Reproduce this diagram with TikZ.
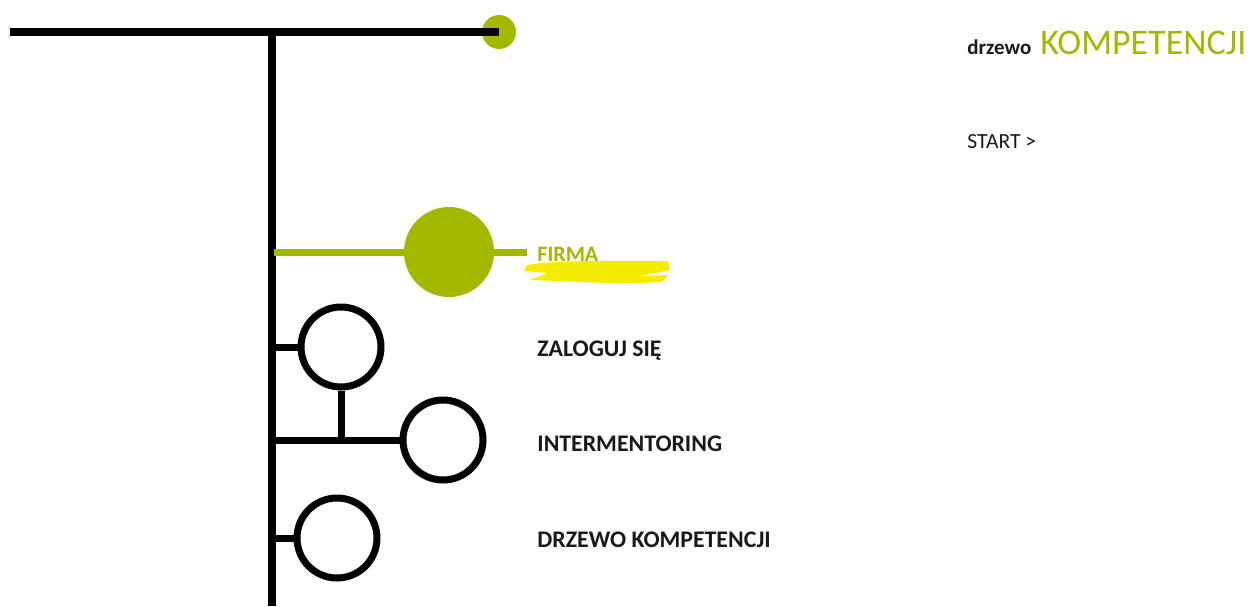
\documentclass[tikz,border=0pt]{standalone}
\usepackage{fontspec}
\setmainfont{Carlito}
\definecolor{leaf}{RGB}{164,184,0}
\definecolor{marker}{RGB}{245,236,0}
\definecolor{ink}{RGB}{25,25,25}
\tikzset{
  twig/.style={line width=4pt, black},
  ring/.style={circle, draw=black, line width=3.5pt, fill=white, minimum size=40pt, inner sep=0pt},
  item/.style={anchor=base west, inner sep=0pt, font=\bfseries\fontsize{11.9}{14}\selectfont, text=ink},
}
\begin{document}
\begin{tikzpicture}[x=0.5pt, y=-0.5pt]
\useasboundingbox (0,0) rectangle (1257,606);
\coordinate (top) at (10,32);
\coordinate (root) at (272,32);
\coordinate (foot) at (272,606);
\node[circle, fill=leaf, minimum size=17pt, inner sep=0pt] (bud) at (499,32) {};
\draw[twig] (top) -- (bud.center);
\draw[twig] (root) -- (foot);

\coordinate (f0) at (274,252);
\coordinate (f1) at (527,252);
\draw[line width=3.5pt, leaf] (f0) -- (f1);
\node[circle, fill=leaf, minimum size=45pt, inner sep=0pt] (firma) at (449,252) {};
\fill[marker] (527,265) .. controls (560,259) and (620,262) .. (668,261) -- (670,270) -- (640,276) -- (668,275) -- (662,282) .. controls (610,285) and (570,281) .. (530,280) -- (548,273) -- (524,271) -- cycle;
\node[item, text=leaf, font=\bfseries\fontsize{11}{13}\selectfont] (tfirma) at (537,261) {FIRMA};

\coordinate (b1) at (272,347);
\coordinate (b2) at (272,440);
\coordinate (b3) at (272,538);
\coordinate (s2) at (341,440);
\node[ring] (zal) at (341,347) {};
\node[ring] (inter) at (443,440) {};
\node[ring] (drz) at (337,538) {};
\draw[twig, line width=3.5pt] (b1) -- (zal.west);
\draw[twig, line width=3.5pt] (b2) -- (inter.west);
\draw[twig, line width=3.5pt] (b3) -- (drz.west);
\draw[twig, line width=3.5pt] (zal.south) -- (s2);

\node[item] (tzal) at (537,356) {ZALOGUJ SIĘ};
\node[item] (tinter) at (537,451) {INTERMENTORING};
\node[item] (tdrz) at (537,547) {DRZEWO KOMPETENCJI};

\node[anchor=base west, inner sep=0pt, font=\bfseries\fontsize{10.5}{12}\selectfont, text=ink] (logo) at (967,54) {drzewo};
\node[anchor=base west, inner sep=0pt, font=\fontsize{18}{20}\selectfont, text=leaf] (logo2) at (1040,54) {KOMPETENCJI};
\node[anchor=base west, inner sep=0pt, font=\fontsize{10.8}{12}\selectfont, text=ink] (start) at (967,148) {START >};
\end{tikzpicture}
\end{document}
